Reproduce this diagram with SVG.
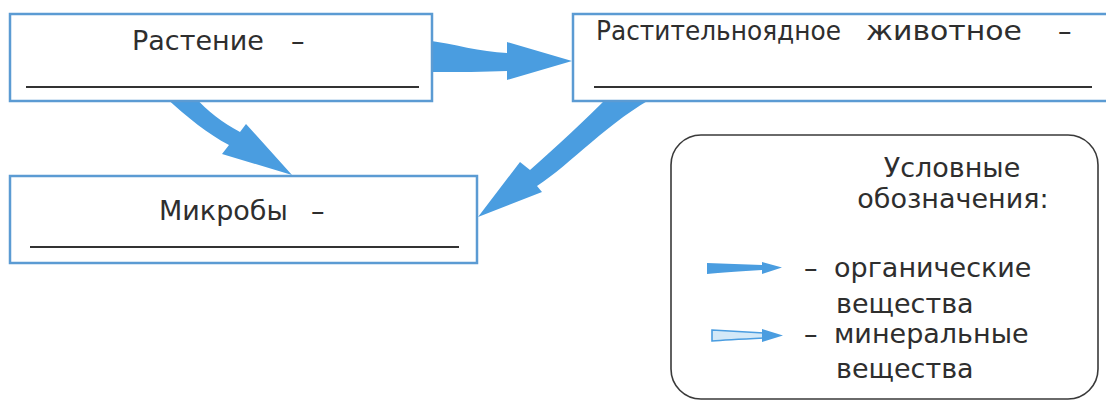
<svg xmlns="http://www.w3.org/2000/svg" width="1106" height="402" viewBox="0 0 1106 402">
  <style>
    .box { fill: #ffffff; stroke: #5b9bd3; stroke-width: 2.5; }
    .legend { fill: none; stroke: #3a3a3a; stroke-width: 1.6; }
    .t { font-family: "DejaVu Sans", "Liberation Sans", sans-serif; font-size: 27px; fill: #2e2e2e; }
    .ul { stroke: #333333; stroke-width: 2.2; }
    .arrow { fill: #4a9de0; }
    .mineral { fill: #d3e9f8; stroke: #4a9de0; stroke-width: 1.6; }
  </style>
  <rect width="1106" height="402" fill="#ffffff"/>

  <g id="connectors">
    <path class="arrow" d="M425,40 C455,44 480,52 507,53 L507,42 L572,61 L507,80 L507,71 C485,72 460,72 425,72 Z"/>
    <path class="arrow" d="M164,96 C188,118 208,134 229,145 L222,154 L292,175 L246,124 L240,132 C222,122 208,112 194,96 Z"/>
    <path class="arrow" d="M610,95 C585,120 555,148 530,170 L520,162 L478,217 L542,192 L537,186 C570,165 610,120 658,95 Z"/>
  </g>

  <g id="node-plant">
    <rect class="box" x="10" y="14" width="422" height="87"/>
    <text class="t" y="50"><tspan x="132">Растение</tspan><tspan x="291">–</tspan></text>
    <line class="ul" x1="26" y1="87" x2="419" y2="87"/>
  </g>

  <g id="node-herbivore">
    <rect class="box" x="573" y="14" width="540" height="87"/>
    <text class="t" y="40"><tspan x="596" textLength="245" lengthAdjust="spacingAndGlyphs">Растительноядное</tspan><tspan x="866" textLength="156" lengthAdjust="spacingAndGlyphs">животное</tspan><tspan x="1058">–</tspan></text>
    <line class="ul" x1="594" y1="87" x2="1092" y2="87"/>
  </g>

  <g id="node-microbes">
    <rect class="box" x="10" y="176" width="467" height="87"/>
    <text class="t" y="220"><tspan x="159">Микробы</tspan><tspan x="311">–</tspan></text>
    <line class="ul" x1="30" y1="247" x2="459" y2="247"/>
  </g>

  <g id="legend">
    <rect class="legend" x="671" y="135" width="427" height="264" rx="30" ry="30"/>
    <text class="t" x="952" y="177" text-anchor="middle">Условные</text>
    <text class="t" x="953" y="208" text-anchor="middle">обозначения:</text>
    <path class="arrow" d="M707,263 L762,265 L762,262 L782,267.5 L762,274 L762,270 C740,271 720,273 707,274 Z"/>
    <text class="t" y="277"><tspan x="804">–</tspan><tspan x="834">органические</tspan></text>
    <text class="t" x="836" y="313">вещества</text>
    <path class="mineral" d="M712,330 L765,333 L765,338 C745,339 725,340 712,341 Z"/>
    <path class="arrow" d="M762,329 L783,335.5 L762,342 Z"/>
    <text class="t" y="343"><tspan x="804">–</tspan><tspan x="834">минеральные</tspan></text>
    <text class="t" x="836" y="378">вещества</text>
  </g>
</svg>
